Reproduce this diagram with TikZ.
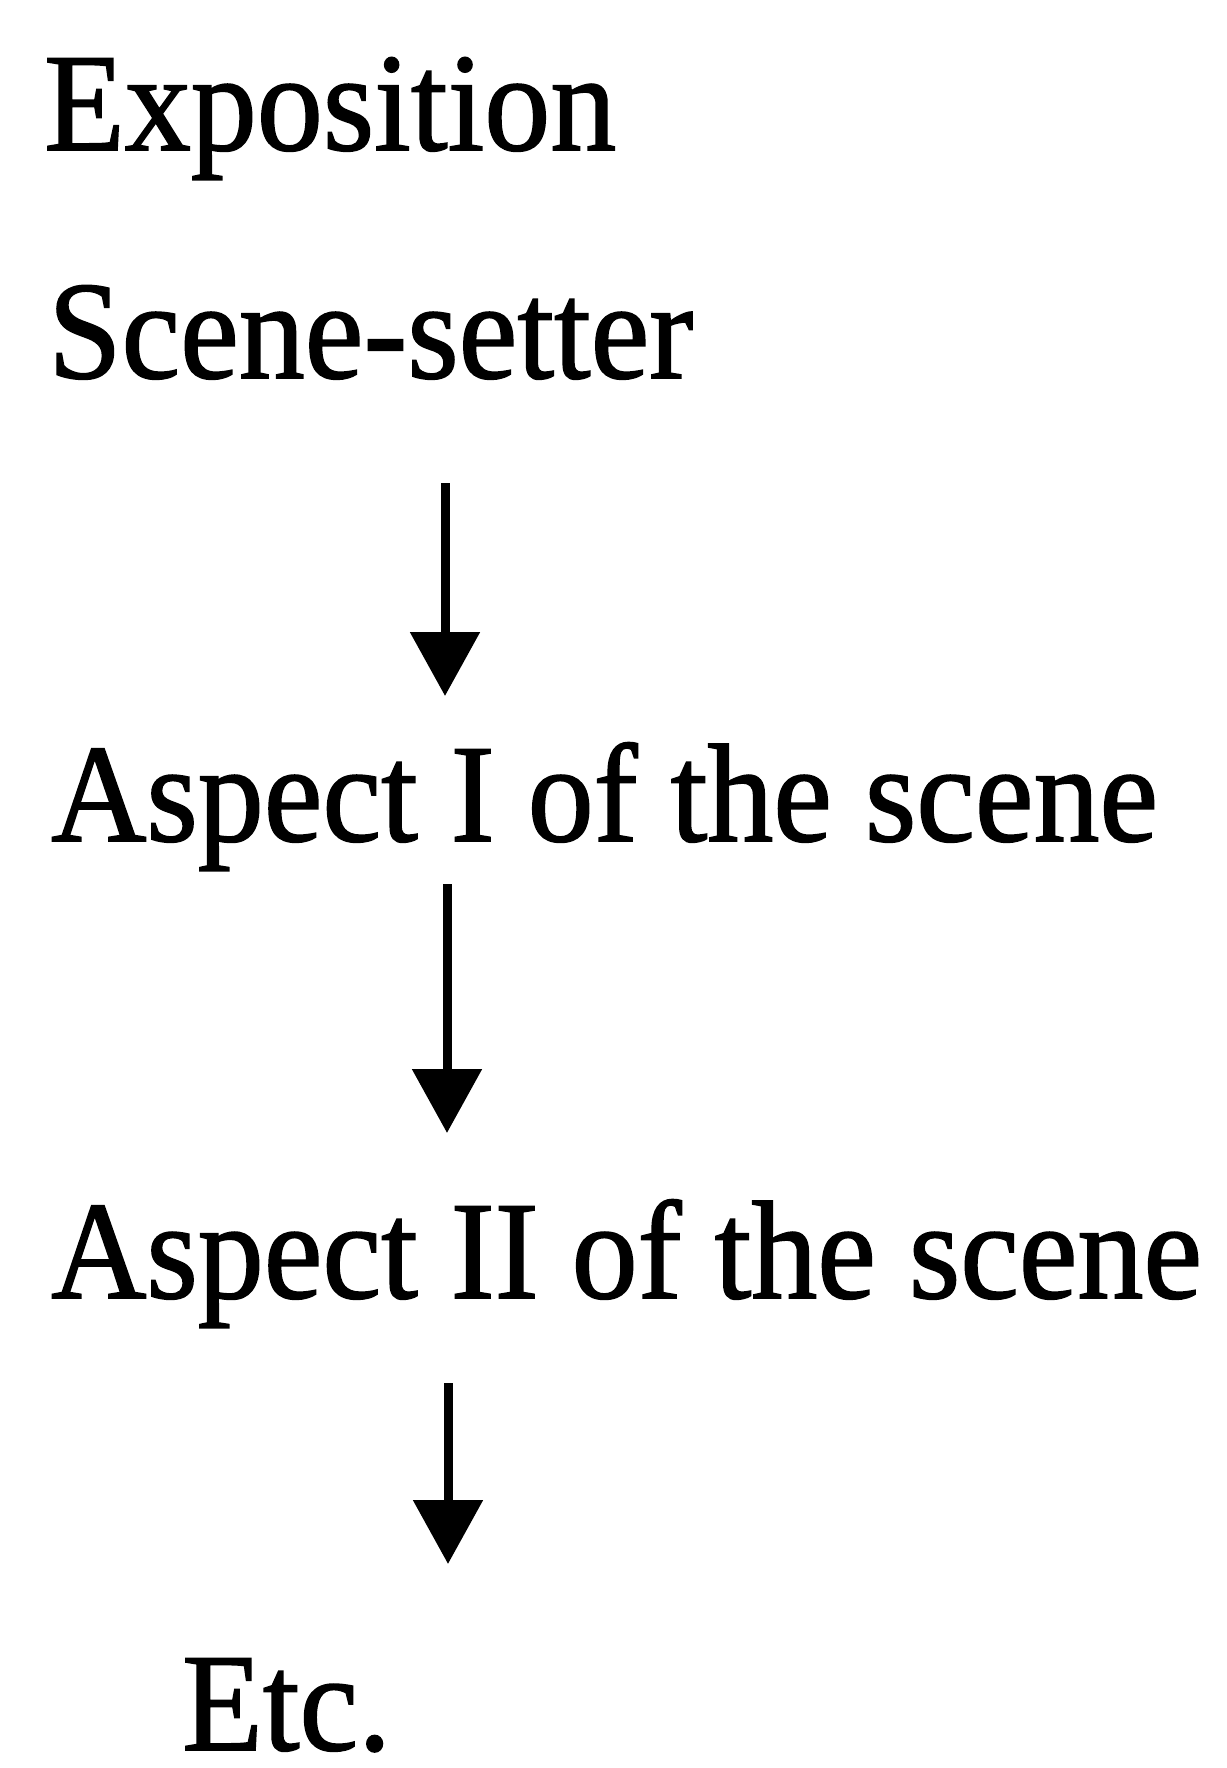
\documentclass[tikz,border=0pt]{standalone}
\usepackage{fontspec}
\setmainfont[FakeBold=1.2]{Liberation Serif}
\usetikzlibrary{arrows.meta}
\begin{document}
\begin{tikzpicture}[x=1pt,y=-1pt,
  lbl/.style={anchor=base west,inner sep=0pt,yscale=1.06,font=\fontsize{132}{150}\selectfont},
  flow/.style={line width=9pt,-{Triangle[length=64pt,width=68pt]}}]
\useasboundingbox (0,0) rectangle (1226,1768);
\node[lbl] (expo) at (44,150) {Exposition};
\node[lbl] (setter) at (48,378) {Scene-setter};
\node[lbl] (asp1) at (51,841) {Aspect I of the scene};
\node[lbl] (asp2) at (51,1298) {Aspect II of the scene};
\node[lbl] (etc) at (182,1750) {Etc.};
\coordinate (a1s) at (445,483);
\coordinate (a1e) at (445,696);
\coordinate (a2s) at (447,884);
\coordinate (a2e) at (447,1133);
\coordinate (a3s) at (448,1383);
\coordinate (a3e) at (448,1564);
\draw[flow] (a1s) -- (a1e);
\draw[flow] (a2s) -- (a2e);
\draw[flow] (a3s) -- (a3e);
\end{tikzpicture}
\end{document}
